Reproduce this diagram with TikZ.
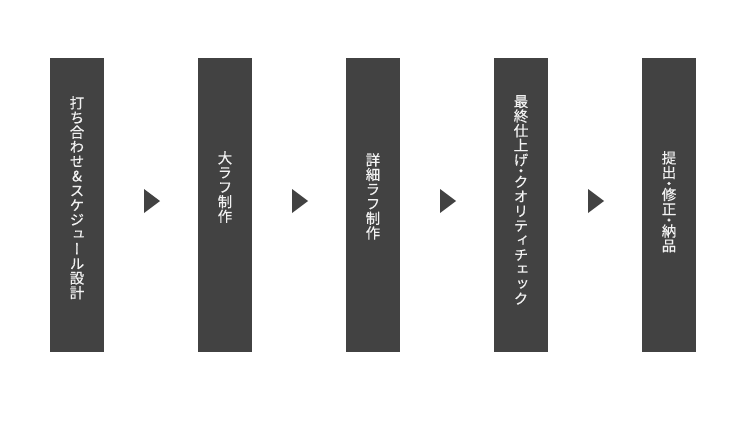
\documentclass[tikz,border=0pt]{standalone}
\usepackage{fontspec}
\newfontfamily\cjkv[RawFeature=+vert, FakeBold=0.4]{Noto Sans CJK JP}
\definecolor{barcol}{HTML}{424242}
\definecolor{txtcol}{HTML}{F2F2F2}
\newcommand\halfdot{\\[-3.6pt]・\\[-3.6pt]}
\tikzset{
  stepbar/.style={fill=barcol, draw=none, inner sep=0pt, minimum width=54pt, minimum height=294pt},
  steplabel/.style={anchor=north, inner sep=0pt, align=center, text=txtcol,
    font=\cjkv\fontsize{14.5}{14.6}\selectfont},
  arrowtri/.style={fill=barcol, draw=none}
}
\begin{document}
\begin{tikzpicture}[x=1pt,y=-1pt]
\useasboundingbox (0,0) rectangle (750,423);
\fill[white] (0,0) rectangle (750,423);
% bars
\node[stepbar] (b1) at (77,205) {};
\node[stepbar] (b2) at (225,205) {};
\node[stepbar] (b3) at (373,205) {};
\node[stepbar] (b4) at (521,205) {};
\node[stepbar] (b5) at (669,205) {};
% labels
\node[steplabel] (t1) at (77,96) {打\\ち\\合\\わ\\せ\\\&\\ス\\ケ\\ジ\\ュ\\ー\\ル\\設\\計};
\node[steplabel] (t2) at (225,151) {大\\ラ\\フ\\制\\作};
\node[steplabel] (t3) at (373,153) {詳\\細\\ラ\\フ\\制\\作};
\node[steplabel] (t4) at (521,95) {最\\終\\仕\\上\\げ\halfdot ク\\オ\\リ\\テ\\ィ\\チ\\ェ\\ッ\\ク};
\node[steplabel] (t5) at (669,151) {提\\出\halfdot 修\\正\halfdot 納\\品};
% triangles
\coordinate (a1) at (144,189);
\coordinate (a2) at (292,189);
\coordinate (a3) at (440,189);
\coordinate (a4) at (588,189);
\foreach \c in {a1,a2,a3,a4}{
  \fill[arrowtri] (\c) -- ++(16,12) -- ++(-16,12) -- cycle;
}
\end{tikzpicture}
\end{document}
